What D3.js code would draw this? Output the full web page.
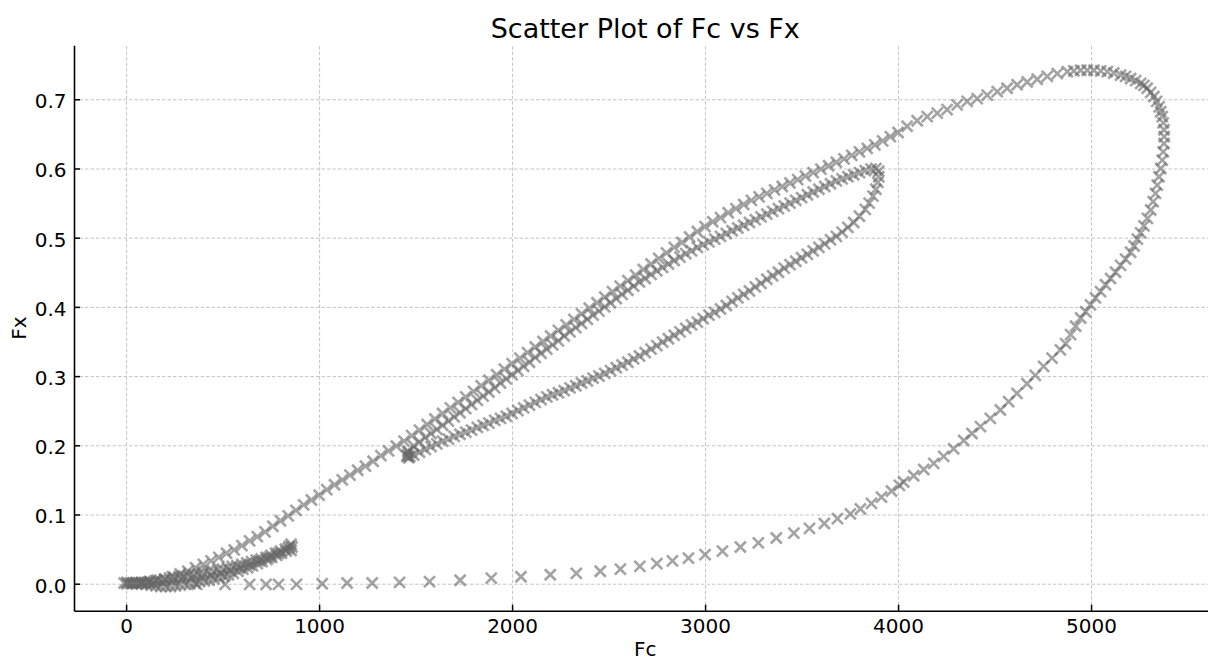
<!DOCTYPE html>
<html>
<head>
<meta charset="utf-8">
<script src="https://cdn.jsdelivr.net/npm/d3@7"></script>
<style>
  body { margin: 0; background: #fff; }
  svg, svg text, .tick text { font-family: "DejaVu Sans", sans-serif; }
  .tick text { font-size: 20px; fill: #000; }
  .grid line { stroke: #c4c4c4; stroke-width: 1; stroke-dasharray: 3.5,2; }
</style>
</head>
<body>
<svg id="chart" width="1208" height="661"></svg>
<script>
const xTicks = [0, 1000, 2000, 3000, 4000, 5000];
const yTicks = [0, 0.1, 0.2, 0.3, 0.4, 0.5, 0.6, 0.7];

// big loop: fast along the bottom, up the right side, slow return on top
const bigLoop = [
  [366,-0.001],[513,-0.001],[640,-0.001],[725,-0.001],[790,-0.001],[883,-0.001],[1016,0.000],
  [1145,0.001],[1275,0.001],[1417,0.002],[1572,0.003],[1731,0.005],[1892,0.008],[2046,0.010],
  [2198,0.013],[2333,0.015],[2457,0.018],[2561,0.021],[2662,0.025],[2750,0.029],[2831,0.033],
  [2914,0.037],[3000,0.042],[3090,0.047],[3183,0.053],[3276,0.059],[3369,0.066],[3460,0.073],
  [3541,0.080],[3618,0.087],[3686,0.094],[3753,0.101],[3805,0.108],[3862,0.116],[3914,0.125],
  [3966,0.134],[4007,0.142],[4029,0.147],[4081,0.156],[4133,0.165],[4185,0.174],[4236,0.184],
  [4288,0.195],[4340,0.207],[4383,0.217],[4427,0.227],[4478,0.239],[4530,0.251],[4573,0.263],
  [4616,0.275],[4668,0.289],[4711,0.301],[4754,0.314],[4798,0.326],[4841,0.338],
  [4868,0.347],[4894,0.360],[4920,0.372],[4946,0.384],[4972,0.393],[4997,0.403],[5023,0.413],
  [5049,0.422],[5075,0.432],[5101,0.441],[5127,0.450],[5153,0.460],[5179,0.469],[5205,0.479],
  [5223,0.488],[5240,0.498],[5257,0.507],[5274,0.517],[5292,0.528],[5309,0.540],[5322,0.552],
  [5334,0.564],[5343,0.576],[5352,0.588],[5361,0.600],[5369,0.612],[5374,0.624],[5378,0.636],
  [5379,0.646],[5378,0.656],[5374,0.666],[5369,0.675],[5361,0.682],[5352,0.689],[5340,0.697],
  [5326,0.704],[5309,0.710],[5291,0.716],[5274,0.720],[5257,0.723],[5231,0.727],[5205,0.730],
  [5179,0.733],[5153,0.735],[5118,0.738],[5084,0.740],[5050,0.741],[5015,0.742],[4980,0.742],
  [4946,0.742],[4911,0.741],[4877,0.740],[4825,0.737],[4773,0.733],[4721,0.729],[4669,0.725],
  [4617,0.721],[4565,0.716],[4514,0.711],[4462,0.706],[4410,0.701],[4358,0.697],[4306,0.692],
  [4254,0.685],[4203,0.680],[4151,0.675],[4099,0.669],[4047,0.661],
  [4000,0.652],[3960,0.646],[3920,0.640],[3880,0.634],[3840,0.629],[3800,0.624],[3760,0.619],
  [3720,0.614],[3680,0.609],[3640,0.604],[3600,0.599],[3560,0.594],[3520,0.589],[3480,0.584],
  [3440,0.579],[3400,0.574],[3360,0.569],[3320,0.564],[3280,0.559],[3240,0.554],[3200,0.548],
  [3160,0.542],[3120,0.536],[3080,0.529],[3040,0.523],[3000,0.516],[2960,0.509],[2920,0.501],
  [2880,0.493],[2840,0.486],[2800,0.478],[2760,0.470],[2720,0.462],[2680,0.454],[2640,0.446],
  [2600,0.438],[2560,0.430],[2520,0.422],[2480,0.414],[2440,0.406],[2400,0.398],[2360,0.390],
  [2320,0.382],[2280,0.374],[2240,0.366],[2200,0.358],[2160,0.350],[2120,0.342],[2080,0.334],
  [2040,0.326],[2000,0.318],[1960,0.310],[1920,0.302],[1880,0.294],[1840,0.286],[1800,0.278],
  [1760,0.270],[1720,0.262],[1680,0.254],[1640,0.246],[1600,0.238],[1560,0.230],[1520,0.222],
  [1480,0.214],[1440,0.206],[1400,0.199],[1360,0.192],[1320,0.185],[1280,0.177],[1240,0.170],
  [1200,0.164],[1160,0.157],[1120,0.150],[1080,0.143],[1040,0.136],[1000,0.128],[960,0.121],
  [920,0.114],[880,0.106],[840,0.098],[800,0.091],[760,0.083],[720,0.075],[680,0.068],
  [640,0.062],[600,0.055],[560,0.049],[520,0.044],[480,0.038],[440,0.033],[400,0.028],
  [360,0.023],[320,0.018],[280,0.014],[240,0.010],[200,0.007],[160,0.005],[120,0.003],[80,0.002]
];

// middle loop between ~1450 and ~3900
const midLoop = [
  [1460,0.192],[1490,0.199],[1520,0.205],[1550,0.211],[1580,0.217],[1610,0.223],[1640,0.229],
  [1670,0.235],[1700,0.241],[1730,0.247],[1760,0.253],[1790,0.259],[1820,0.265],[1850,0.271],
  [1880,0.277],[1910,0.283],[1940,0.290],[1970,0.296],[2000,0.302],[2030,0.308],[2060,0.314],
  [2090,0.320],[2120,0.327],[2150,0.333],[2180,0.339],[2210,0.345],[2240,0.351],[2270,0.358],
  [2300,0.364],[2330,0.370],[2360,0.376],[2390,0.382],[2420,0.388],[2450,0.394],[2480,0.400],
  [2510,0.406],[2540,0.412],[2570,0.418],[2600,0.424],[2630,0.430],[2660,0.436],[2690,0.441],
  [2720,0.447],[2750,0.452],[2780,0.457],[2810,0.462],[2840,0.467],[2870,0.472],[2900,0.477],
  [2930,0.481],[2960,0.486],[2990,0.490],[3020,0.494],[3050,0.498],[3080,0.502],[3110,0.506],
  [3140,0.510],[3170,0.514],[3200,0.518],[3230,0.522],[3260,0.526],[3290,0.530],[3320,0.534],
  [3350,0.538],[3380,0.542],[3410,0.546],[3440,0.550],[3470,0.554],[3500,0.558],[3530,0.562],
  [3560,0.566],[3590,0.570],[3620,0.574],[3650,0.578],[3680,0.582],[3710,0.585],[3740,0.588],
  [3770,0.591],[3800,0.594],[3830,0.597],[3860,0.599],[3885,0.600],[3900,0.596],
  [3900,0.588],[3895,0.580],[3885,0.570],[3870,0.560],[3850,0.550],[3830,0.541],[3800,0.531],
  [3770,0.522],[3740,0.515],[3710,0.508],[3680,0.502],[3650,0.497],[3620,0.491],[3590,0.486],
  [3560,0.481],[3530,0.476],[3500,0.471],[3470,0.466],[3440,0.461],[3410,0.456],[3380,0.450],
  [3350,0.445],[3320,0.440],[3290,0.434],[3260,0.429],[3230,0.423],[3200,0.418],[3170,0.413],
  [3140,0.408],[3110,0.402],[3080,0.397],[3050,0.392],[3020,0.388],[2990,0.383],[2960,0.378],
  [2930,0.374],[2900,0.369],[2870,0.364],[2840,0.359],[2810,0.354],[2780,0.349],[2750,0.344],
  [2720,0.339],[2690,0.334],[2660,0.329],[2630,0.325],[2600,0.320],[2570,0.316],[2540,0.312],
  [2510,0.308],[2480,0.304],[2450,0.300],[2420,0.297],[2390,0.293],[2360,0.290],[2330,0.286],
  [2300,0.283],[2270,0.279],[2240,0.276],[2210,0.273],[2180,0.270],[2150,0.266],[2120,0.262],
  [2090,0.258],[2060,0.254],[2030,0.250],[2000,0.246],[1970,0.242],[1940,0.239],[1910,0.236],
  [1880,0.232],[1850,0.229],[1820,0.226],[1790,0.222],[1760,0.219],[1730,0.216],[1700,0.213],
  [1670,0.209],[1640,0.206],[1610,0.202],[1580,0.198],[1550,0.194],[1520,0.190],[1490,0.186],
  [1470,0.184],[1465,0.182],[1458,0.186],[1455,0.184],[1462,0.190]
];

// small loop near the origin, out and back
const smallLoop = [
  [-10,0.001],[5,0.002],[20,0.001],[35,0.001],[50,0.001],[65,0.001],[80,0.001],[95,0.002],
  [110,0.002],[125,0.003],[150,0.004],[175,0.005],[200,0.006],[225,0.008],[250,0.009],
  [275,0.010],[300,0.011],[325,0.012],[350,0.013],[375,0.014],[400,0.016],[425,0.017],
  [450,0.018],[475,0.020],[500,0.021],[525,0.023],[550,0.025],[575,0.026],[600,0.028],
  [625,0.030],[650,0.032],[675,0.034],[700,0.036],[725,0.038],[750,0.041],[775,0.044],
  [800,0.047],[825,0.050],[845,0.054],[855,0.057],[860,0.053],[855,0.048],
  [830,0.047],[805,0.044],[780,0.041],[755,0.038],[730,0.035],[705,0.032],[680,0.029],
  [655,0.026],[630,0.023],[605,0.021],[580,0.018],[555,0.015],[530,0.013],[505,0.011],
  [480,0.009],[455,0.007],[430,0.005],[405,0.004],[380,0.003],[355,0.001],[330,0.000],
  [305,-0.001],[280,-0.002],[255,-0.003],[230,-0.004],[205,-0.004],[180,-0.004],[155,-0.003],
  [130,-0.002],[105,-0.001],[80,0.000],[55,0.000],[30,0.000],[5,0.000]
];

// second pass through the small loop, between the two branches above
const smallLoop2 = [
  [140,0.001],[190,0.002],[240,0.004],[290,0.006],[340,0.008],[390,0.010],[440,0.012],
  [490,0.015],[540,0.019],[590,0.023],[640,0.027],[690,0.033],[740,0.038],[790,0.044],
  [840,0.051]
];

class ScatterPlot {
  constructor(series, svg, margin) {
    this.series = series;
    this.svg = svg;
    this.margin = margin;

    this.xScale = d3.scaleLinear()
        .domain([-270, 5650])
        .range([margin.left, margin.right]);
    this.yScale = d3.scaleLinear()
        .domain([-0.039, 0.778])
        .range([margin.bottom, margin.top]);

    this.initPlot();
    this.updateAxes();
    this.updatePoints();
  }

  initPlot() {
    const vis = this;
    vis.gGridX = vis.svg.append("g").attr("class", "grid");
    vis.gGridY = vis.svg.append("g").attr("class", "grid");
    vis.gPoints = vis.svg.append("g");
    vis.gXAxis = vis.svg.append("g").attr("transform", `translate(0,${vis.margin.bottom})`);
    vis.gYAxis = vis.svg.append("g").attr("transform", `translate(${vis.margin.left},0)`);
  }

  updateAxes() {
    const vis = this;
    const h = vis.margin.bottom - vis.margin.top;
    const w = vis.margin.right - vis.margin.left;

    vis.gGridX.attr("transform", `translate(0,${vis.margin.bottom})`)
      .call(d3.axisBottom(vis.xScale).tickValues(xTicks).tickSize(-h).tickFormat(""));
    vis.gGridY.attr("transform", `translate(${vis.margin.left},0)`)
      .call(d3.axisLeft(vis.yScale).tickValues(yTicks).tickSize(-w).tickFormat(""));
    vis.svg.selectAll(".grid .domain").remove();

    vis.gXAxis.call(d3.axisBottom(vis.xScale)
        .tickValues(xTicks)
        .tickSizeInner(-6)
        .tickSizeOuter(0)
        .tickPadding(8.5)
        .tickFormat(d3.format("d")));
    vis.gYAxis.call(d3.axisLeft(vis.yScale)
        .tickValues(yTicks)
        .tickSizeInner(-6)
        .tickSizeOuter(0)
        .tickPadding(7.5)
        .tickFormat(d3.format(".1f")));

    vis.gXAxis.attr("font-family", null).attr("font-size", null);
    vis.gYAxis.attr("font-family", null).attr("font-size", null);
    vis.gYAxis.selectAll(".tick text").attr("dy", "0.42em");
    vis.svg.selectAll(".domain").attr("stroke", "#000").attr("stroke-width", 1.6);
    vis.gXAxis.selectAll(".tick line").attr("stroke", "#000").attr("stroke-width", 1.5);
    vis.gYAxis.selectAll(".tick line").attr("stroke", "#000").attr("stroke-width", 1.5);

    vis.svg.append("text")
      .attr("x", (vis.margin.left + vis.margin.right) / 2)
      .attr("y", 38)
      .attr("text-anchor", "middle")
      .style("font-size", "27px")
      .text("Scatter Plot of Fc vs Fx");

    vis.svg.append("text")
      .attr("x", (vis.margin.left + vis.margin.right) / 2)
      .attr("y", 656)
      .attr("text-anchor", "middle")
      .style("font-size", "20px")
      .text("Fc");

    vis.svg.append("text")
      .attr("transform", `translate(26,${(vis.margin.top + vis.margin.bottom) / 2}) rotate(-90)`)
      .attr("text-anchor", "middle")
      .style("font-size", "20px")
      .text("Fx");
  }

  updatePoints() {
    const vis = this;
    const all = vis.series.flat();
    vis.gPoints.selectAll("path")
      .data(all)
      .join("path")
      .attr("transform", d => `translate(${vis.xScale(d[0])},${vis.yScale(d[1])})`)
      .attr("d", "M-5.5,-5.5L5.5,5.5M-5.5,5.5L5.5,-5.5")
      .attr("fill", "none")
      .attr("stroke", "#666")
      .attr("stroke-width", 2.6)
      .attr("stroke-opacity", 0.6);
  }
}

const svg = d3.select("#chart");
new ScatterPlot([bigLoop, midLoop, smallLoop, smallLoop2], svg,
  {left: 74, right: 1216.5, top: 45.3, bottom: 610.7});
</script>
</body>
</html>
